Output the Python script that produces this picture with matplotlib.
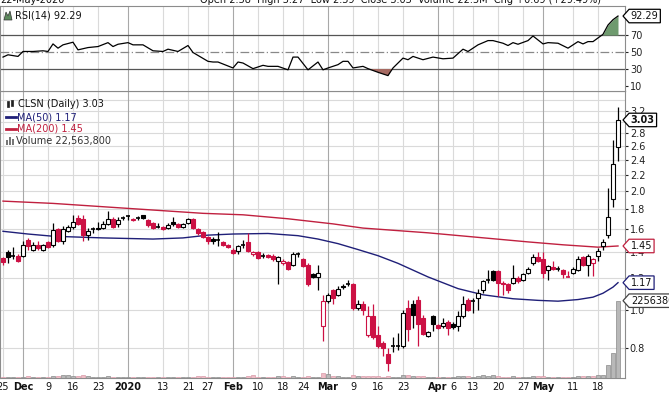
import numpy as np
import matplotlib
matplotlib.use("Agg")
import matplotlib.pyplot as plt
from matplotlib.path import Path
from matplotlib.patches import Rectangle, Polygon
from matplotlib.lines import Line2D
from matplotlib.ticker import NullLocator

# ---------------- data ----------------
opens = [1.35,1.40,1.37,1.37,1.37,1.50,1.42,1.46,1.42,1.48,
         1.46,1.60,1.49,1.58,1.62,1.71,1.70,1.55,1.60,1.615,
         1.61,1.65,1.70,1.65,1.71,1.73,1.69,1.71,1.735,1.69,
         1.66,1.62,1.62,1.61,1.67,1.65,1.62,1.66,1.70,1.60,
         1.57,1.53,1.51,1.50,1.48,1.46,1.42,1.41,1.46,1.48,
         1.38,1.40,1.37,1.375,1.37,1.33,1.31,1.32,1.30,1.38,
         1.34,1.30,1.23,1.21,0.91,1.05,1.12,1.09,1.15,1.16,
         1.16,1.01,1.03,0.86,0.96,0.86,0.82,0.77,0.81,0.81,
         0.81,1.01,1.03,1.06,0.95,0.855,0.96,0.915,0.91,0.93,
         0.92,0.91,0.96,1.06,1.05,1.07,1.12,1.19,1.25,1.25,
         1.17,1.16,1.17,1.20,1.19,1.24,1.31,1.36,1.34,1.26,
         1.28,1.27,1.26,1.21,1.24,1.26,1.36,1.30,1.31,1.37,
         1.45,1.55,1.91,2.58]
highs = [1.36,1.42,1.44,1.38,1.49,1.52,1.48,1.49,1.47,1.49,
         1.66,1.61,1.63,1.64,1.74,1.74,1.74,1.61,1.62,1.67,
         1.68,1.78,1.72,1.72,1.73,1.74,1.71,1.73,1.74,1.70,
         1.67,1.66,1.63,1.66,1.72,1.66,1.66,1.71,1.71,1.61,
         1.58,1.54,1.53,1.57,1.49,1.47,1.43,1.46,1.50,1.56,
         1.41,1.41,1.39,1.38,1.38,1.37,1.34,1.33,1.40,1.40,
         1.35,1.31,1.24,1.30,1.09,1.10,1.13,1.15,1.16,1.19,
         1.17,1.06,1.05,1.02,1.03,0.91,0.83,0.80,0.85,0.87,
         1.00,1.06,1.06,1.08,0.97,0.88,0.97,0.92,0.95,0.94,
         0.93,0.99,1.08,1.07,1.07,1.13,1.19,1.26,1.26,1.26,
         1.18,1.17,1.30,1.22,1.24,1.28,1.38,1.40,1.40,1.30,
         1.33,1.29,1.27,1.25,1.28,1.37,1.37,1.38,1.35,1.43,
         1.51,2.03,2.70,3.27]
lows = [1.30,1.31,1.34,1.32,1.36,1.42,1.41,1.42,1.41,1.43,
        1.44,1.48,1.47,1.57,1.60,1.64,1.49,1.50,1.56,1.59,
        1.60,1.64,1.61,1.62,1.69,1.69,1.68,1.69,1.70,1.62,
        1.60,1.61,1.59,1.60,1.63,1.61,1.61,1.65,1.60,1.55,
        1.52,1.47,1.47,1.45,1.45,1.43,1.38,1.38,1.43,1.40,
        1.37,1.34,1.35,1.35,1.33,1.16,1.30,1.26,1.29,1.36,
        1.28,1.15,1.20,1.12,0.83,1.04,1.03,1.08,1.13,1.15,
        1.00,1.00,0.97,0.85,0.84,0.80,0.76,0.70,0.78,0.79,
        0.80,0.83,0.90,0.81,0.86,0.85,0.88,0.89,0.90,0.86,
        0.89,0.88,0.95,0.99,0.98,1.00,1.10,1.17,1.18,1.08,
        1.09,1.10,1.16,1.17,1.18,1.23,1.30,1.32,1.20,1.19,
        1.26,1.25,1.20,1.21,1.23,1.25,1.29,1.22,1.22,1.33,
        1.42,1.52,1.82,2.39]
closes = [1.32,1.36,1.37,1.33,1.46,1.45,1.46,1.43,1.46,1.44,
          1.59,1.49,1.60,1.62,1.67,1.65,1.55,1.58,1.60,1.60,
          1.65,1.70,1.62,1.69,1.71,1.73,1.70,1.71,1.71,1.64,
          1.61,1.62,1.605,1.64,1.645,1.62,1.65,1.70,1.61,1.565,
          1.53,1.49,1.495,1.50,1.46,1.445,1.39,1.45,1.46,1.41,
          1.40,1.35,1.37,1.36,1.345,1.36,1.33,1.27,1.38,1.38,
          1.29,1.16,1.21,1.24,1.05,1.09,1.07,1.13,1.14,1.16,
          1.01,1.03,1.00,0.96,0.85,0.81,0.80,0.73,0.81,0.81,
          0.98,0.89,0.97,0.92,0.865,0.875,0.92,0.90,0.925,0.90,
          0.905,0.96,1.03,1.00,1.05,1.10,1.18,1.19,1.19,1.17,
          1.16,1.12,1.20,1.18,1.23,1.27,1.36,1.33,1.24,1.29,
          1.27,1.27,1.23,1.21,1.27,1.34,1.30,1.37,1.34,1.41,
          1.48,1.72,2.34,3.03]
prev_close_start = 1.34

volume_m = [0.35,0.3,0.3,0.3,0.4,0.45,0.35,0.3,0.35,0.4,
            0.6,0.5,0.9,0.8,0.5,0.45,1.0,0.5,0.35,0.3,
            0.4,0.7,0.4,0.35,0.25,0.3,0.3,0.3,0.3,0.35,
            0.35,0.3,0.3,0.35,0.3,0.3,0.3,0.35,0.4,0.45,
            0.6,0.4,0.35,0.3,0.35,0.3,0.3,0.35,0.3,0.45,
            0.8,0.4,0.3,0.3,0.35,0.5,0.7,0.4,0.5,0.35,
            0.35,0.5,0.35,0.4,1.6,1.2,0.6,0.5,0.4,0.4,
            0.8,0.5,0.5,0.6,0.7,0.5,0.4,0.5,0.35,0.4,
            0.8,0.9,0.5,0.6,0.5,0.4,0.4,0.35,0.35,0.4,
            0.35,0.45,0.6,0.5,0.4,0.5,1.0,0.6,0.8,0.6,
            0.4,0.4,0.5,0.35,0.4,0.4,0.7,0.5,0.5,0.4,
            0.35,0.35,0.4,0.35,0.4,0.6,0.5,0.7,0.5,0.8,
            0.9,3.9,7.4,22.5638]

ma50_idx = [0,5,10,20,30,36,41,46,53,59,63,67,71,75,79,85,91,96,102,107,111,115,118,120,122,123]
ma50_val = [1.58,1.555,1.535,1.52,1.51,1.52,1.545,1.555,1.56,1.54,1.51,1.47,1.42,1.37,1.31,
            1.21,1.13,1.09,1.065,1.055,1.05,1.06,1.075,1.10,1.14,1.17]
ma200_idx = [0,10,24,40,48,57,66,72,85,95,105,112,119,121,123]
ma200_val = [1.885,1.86,1.81,1.755,1.74,1.70,1.65,1.61,1.566,1.525,1.485,1.46,1.44,1.445,1.45]

rsi_idx = [0,1,3,4,6,8,9,10,11,12,14,15,17,19,21,22,23,25,26,28,
           30,32,33,35,37,38,41,42,43,46,47,48,50,52,53,55,57,58,59,61,
           63,64,65,67,68,69,70,72,73,75,77,78,80,81,82,84,86,88,90,92,
           93,95,97,98,100,101,102,103,105,106,108,109,111,113,115,116,117,118,120,121,
           122,123]
rsi_val = [44,46.7,44.8,50.6,50.6,51.4,50.6,59.5,54.5,58.4,61.5,52.5,55.2,56.4,61,56.4,59.1,61,58.4,58.4,
           51.4,50.6,53.3,50.6,57.6,49.4,39,38.2,38.2,31.2,38.2,37,30.4,34.3,33.1,33.1,29,44,44,29,
           38.2,29,31.2,35.1,39,39,31.2,33.1,30.4,26.1,22.2,31.2,42.8,40.9,44.8,40.9,44,42,42.8,53.3,
           50.6,58.4,63.4,63.4,60.3,57.6,61,59.1,63.4,68.8,59.5,61,60.3,54.5,62.2,59.5,62.2,62.2,70.8,81.7,
           88,92.29]

tick_pos = [0,4,9,14,19,25,32,37,41,46,51,56,60,65,70,75,80,87,90,94,99,104,108,114,119]
tick_lab = ["25","Dec","9","16","23","2020","13","21","27","Feb","10","18","24",
            "Mar","9","16","23","Apr","6","13","20","27","May","11","18"]
month_labels = ["Dec","2020","Feb","Mar","Apr","May"]
price_ticks = [0.8,1.0,1.2,1.4,1.6,1.8,2.0,2.2,2.4,2.6,2.8,3.0,3.2]
price_grid = [0.8,1.0,1.2,1.4,1.6,1.8,2.0,2.2,2.4,2.6,2.8,3.0,3.2,3.4]
rsi_ticks = [10,30,50,70]

# ---------------- styling ----------------
RED = "#cc1144"
NAVY = "#1f1f78"
CRIMSON = "#c0203f"
GRID = "#dadada"
GRID_M = "#a8a8a8"
SPINE = "#8c8c8c"
FS = 7
plt.rcParams["font.family"] = ["DejaVu Sans"]

W, H = 669, 394
fig = plt.figure(figsize=(W / 100, H / 100), dpi=100)
fig.patch.set_facecolor("white")

def fx(px):
    return px / W

def fy(py):
    return 1 - py / H

ax = fig.add_axes([0, fy(378), fx(625), fy(91) - fy(378)])
axr = fig.add_axes([0, fy(91), fx(625), fy(6) - fy(91)], sharex=ax)
axv = ax.twinx()

n = len(closes)
x = np.arange(n)
o = np.array(opens); h = np.array(highs); l = np.array(lows); c = np.array(closes)
prev = np.concatenate([[prev_close_start], c[:-1]])

# ---- price panel ----
ax.set_yscale("log")
ax.set_xlim(-0.6, 124.4)
ax.set_ylim(0.670, 3.589)
for lv in price_grid:
    ax.axhline(lv, color=GRID, lw=0.8, zorder=0)
for p, lab in zip(tick_pos, tick_lab):
    colg = GRID_M if lab in month_labels else GRID
    ax.axvline(p, color=colg, lw=0.8, zorder=0)
    axr.axvline(p, color=colg, lw=0.8, zorder=0)

ax.plot(ma200_idx, ma200_val, color=CRIMSON, lw=1.0, zorder=2)
ax.plot(ma50_idx, ma50_val, color=NAVY, lw=1.0, zorder=2)

bw = 0.66
for i in range(n):
    col = RED if c[i] < prev[i] else "black"
    ax.vlines(x[i], l[i], h[i], color=col, lw=0.9, zorder=3)
    if abs(c[i] - o[i]) < 0.004:
        ax.hlines(c[i], x[i] - 0.4, x[i] + 0.4, color=col, lw=1.2, zorder=4)
    else:
        face = "white" if c[i] > o[i] else col
        ax.add_patch(Rectangle((x[i] - bw / 2, min(o[i], c[i])), bw, abs(c[i] - o[i]),
                               facecolor=face, edgecolor=col, lw=0.8, zorder=4))

ax.yaxis.tick_right()
ax.yaxis.set_minor_locator(NullLocator())
ax.set_yticks(price_ticks)
ax.set_yticklabels([f"{t:.1f}" for t in price_ticks])
ax.tick_params(axis="y", labelsize=FS, length=2, pad=1.5, colors="#222222", labelcolor="#222222")
ax.set_xticks(tick_pos)
ax.set_xticklabels(tick_lab)
ax.tick_params(axis="x", labelsize=FS, length=0, pad=3, labelcolor="#111111")
for t in ax.get_xticklabels():
    if t.get_text() in month_labels:
        t.set_fontweight("bold")
for s in ax.spines.values():
    s.set_color(SPINE); s.set_linewidth(0.8)

# ---- volume overlay ----
vol = np.array(volume_m)
vcols = ["#efbcc6" if c[i] < prev[i] else "#b8b8b8" for i in range(n)]
vedge = ["#d99aa8" if c[i] < prev[i] else "#8a8a8a" for i in range(n)]
axv.bar(x, vol, width=0.72, color=vcols, edgecolor=vedge, lw=0.5, zorder=1)
axv.set_ylim(0, 22.5638 * (378 - 91) / (378 - 300.7))
axv.set_yticks([])
axv.patch.set_visible(False)
for s in axv.spines.values():
    s.set_visible(False)

# ---- RSI panel ----
ri = np.array(rsi_idx); rv = np.array(rsi_val)
axr.set_ylim(4.1, 104.1)
axr.axhline(70, color="#555555", lw=0.9, zorder=1)
axr.axhline(30, color="#555555", lw=0.9, zorder=1)
axr.axhline(50, color="#888888", lw=0.9, ls=(0, (7, 2, 1, 2)), zorder=1)
axr.fill_between(ri, rv, 70, where=rv >= 70, interpolate=True, color="#6e9a6e", lw=0, zorder=2)
axr.fill_between(ri, rv, 30, where=rv <= 30, interpolate=True, color="#a66a62", lw=0, zorder=2)
axr.plot(ri, rv, color="black", lw=0.9, zorder=3)
axr.yaxis.tick_right()
axr.set_yticks(rsi_ticks)
axr.set_yticklabels([str(t) for t in rsi_ticks])
axr.tick_params(axis="y", labelsize=FS, length=2, pad=1.5, labelcolor="#222222", colors="#222222")
axr.tick_params(axis="x", labelbottom=False, length=0)
for s in axr.spines.values():
    s.set_color(SPINE); s.set_linewidth(0.8)

# ---- value tags on the right ----
def tag_style(x0, y0, width, height, mutation_size):
    pad = 0.18 * mutation_size
    x0 -= pad; y0 -= pad; width += 2 * pad; height += 2 * pad
    x1, y1 = x0 + width, y0 + height
    tip = height * 0.45
    return Path([(x0, y0), (x1, y0), (x1, y1), (x0, y1), (x0 - tip, (y0 + y1) / 2), (x0, y0)],
                closed=True)

def tag(axis, val, text, ec, bold=False, tc="#111111"):
    axis.annotate(text, xy=(1, val), xycoords=("axes fraction", "data"),
                  xytext=(4.2, 0), textcoords="offset points", va="center", ha="left",
                  fontsize=FS, fontweight="bold" if bold else "normal", color=tc,
                  bbox=dict(boxstyle=tag_style, fc="white", ec=ec, lw=0.9),
                  annotation_clip=False, zorder=20)

tag(ax, closes[-1], f"{closes[-1]:.2f}", "black", bold=True)
tag(ax, ma200_val[-1], f"{ma200_val[-1]:.2f}", CRIMSON)
tag(ax, ma50_val[-1], f"{ma50_val[-1]:.2f}", NAVY)
tag(axv, volume_m[-1], f"{int(round(volume_m[-1] * 1e6))}", "#444444")
tag(axr, rsi_val[-1], f"{rsi_val[-1]:.2f}", "black")

# ---- legends / labels ----
def T(px, py, s, **kw):
    fig.text(fx(px), fy(py), s, va="center", ha="left", fontsize=FS, **kw)

T(15, 16, f"RSI(14) {rsi_val[-1]:.2f}", color="#111111")
fig.add_artist(Polygon([(fx(4), fy(20)), (fx(6), fy(12)), (fx(8), fy(16)), (fx(10), fy(11)),
                        (fx(12), fy(20))], closed=True, transform=fig.transFigure,
                       fc="#5d8a5d", ec="#333333", lw=0.5))

T(18, 104, f"CLSN (Daily) {closes[-1]:.2f}", color="#111111")
for (a, b, yy0, yy1) in [(7, 9, 101, 107), (11, 13, 100, 106)]:
    fig.add_artist(Rectangle((fx(a), fy(yy1)), fx(b) - fx(a), fy(yy0) - fy(yy1),
                             transform=fig.transFigure, fc="#222222", ec="#222222", lw=0.5))
T(17, 117, f"MA(50) {ma50_val[-1]:.2f}", color=NAVY)
fig.add_artist(Line2D([fx(6), fx(16)], [fy(117), fy(117)], transform=fig.transFigure, color=NAVY, lw=2))
T(17, 129, f"MA(200) {ma200_val[-1]:.2f}", color=CRIMSON)
fig.add_artist(Line2D([fx(6), fx(16)], [fy(129), fy(129)], transform=fig.transFigure, color=CRIMSON, lw=2))
T(16, 141, f"Volume {int(round(volume_m[-1] * 1e6)):,}", color="#333333")
for (a, hgt) in [(6, 5), (9, 8), (12, 6)]:
    fig.add_artist(Rectangle((fx(a), fy(145)), fx(2), fy(145 - hgt) - fy(145),
                             transform=fig.transFigure, fc="#777777", ec="none"))

# clipped header line at the very top
fig.text(fx(0), fy(3), "22-May-2020", va="baseline", ha="left", fontsize=FS, color="#111111")
fig.text(fx(200), fy(3), f"Open {opens[-1]:.2f}  High {highs[-1]:.2f}  Low {lows[-1]:.2f}  "
         f"Close {closes[-1]:.2f}  Volume 22.5M  Chg +0.69 (+29.49%)",
         va="baseline", ha="left", fontsize=FS, color="#111111")

fig.savefig("out.png", dpi=100, facecolor="white")
